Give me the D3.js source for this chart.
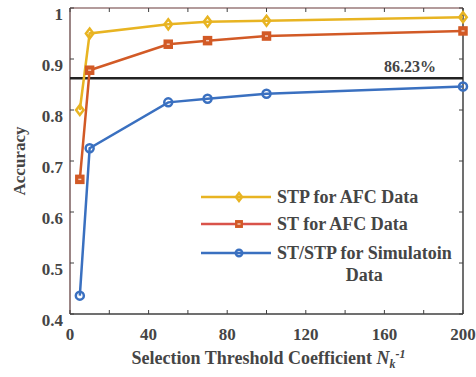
<!DOCTYPE html>
<html>
<head>
<meta charset="utf-8">
<script src="https://cdn.jsdelivr.net/npm/d3@7"></script>
<style>
  body { margin: 0; background: #fff; }
  text { font-family: "Liberation Serif", serif; font-weight: bold; fill: #454545; }
</style>
</head>
<body>
<div id="chart"></div>
<script>
const thresholds = [5, 10, 50, 70, 100, 200];
const stpAfc = [0.800, 0.950, 0.968, 0.973, 0.975, 0.982];
const stAfc = [0.664, 0.878, 0.929, 0.936, 0.945, 0.955];
const stSim = [0.436, 0.725, 0.815, 0.822, 0.832, 0.846];
const baseline = 0.8623;
const xTicks = [0, 40, 80, 120, 160, 200];
const xMinor = [20, 60, 100, 140, 180];
const yTicks = [0.4, 0.5, 0.6, 0.7, 0.8, 0.9, 1];

const series = [
  { name: 'STP for AFC Data', values: stpAfc, color: '#e8b422', marker: 'diamond' },
  { name: 'ST for AFC Data', values: stAfc, color: '#d25a26', legendColor: '#d9534a', marker: 'square' },
  { name: 'ST/STP for Simulatoin', name2: 'Data', values: stSim, color: '#3a70c0', marker: 'circle' }
];

const width = 476, height = 377;
const margin = { top: 8, right: 13, bottom: 63, left: 70 };
const innerW = width - margin.left - margin.right;
const innerH = height - margin.top - margin.bottom;

const svg = d3.select('#chart').append('svg')
  .attr('width', width)
  .attr('height', height);

const x = d3.scaleLinear().domain([0, 200]).range([0, innerW]);
const y = d3.scaleLinear().domain([0.4, 1]).range([innerH, 0]);

const g = svg.append('g')
  .attr('transform', `translate(${margin.left},${margin.top})`);

// frame
g.append('line').attr('x1', 0).attr('x2', innerW).attr('y1', 0).attr('y2', 0)
  .attr('stroke', '#9a7a7a').attr('stroke-width', 1.5);
g.append('line').attr('x1', 0).attr('x2', 0).attr('y1', 0).attr('y2', innerH)
  .attr('stroke', '#7a5c5c').attr('stroke-width', 1.5);
g.append('line').attr('x1', innerW).attr('x2', innerW).attr('y1', 0).attr('y2', innerH)
  .attr('stroke', '#404040').attr('stroke-width', 1.5);
g.append('line').attr('x1', 0).attr('x2', innerW).attr('y1', innerH).attr('y2', innerH)
  .attr('stroke', '#404040').attr('stroke-width', 1.5);

// x ticks
const xAll = xTicks.concat(xMinor);
g.selectAll('.xt-b').data(xAll).enter().append('line')
  .attr('x1', d => x(d)).attr('x2', d => x(d))
  .attr('y1', innerH).attr('y2', innerH - 4)
  .attr('stroke', '#404040').attr('stroke-width', 1);
g.selectAll('.xt-t').data(xAll).enter().append('line')
  .attr('x1', d => x(d)).attr('x2', d => x(d))
  .attr('y1', 0).attr('y2', 4)
  .attr('stroke', '#404040').attr('stroke-width', 1);
g.selectAll('.xl').data(xTicks).enter().append('text')
  .attr('x', d => x(d)).attr('y', innerH + 26)
  .attr('text-anchor', 'middle')
  .style('font-size', '17px')
  .text(d => d);

// y ticks
g.selectAll('.yt-l').data(yTicks).enter().append('line')
  .attr('x1', 0).attr('x2', 4)
  .attr('y1', d => y(d)).attr('y2', d => y(d))
  .attr('stroke', '#404040').attr('stroke-width', 1);
g.selectAll('.yt-r').data(yTicks).enter().append('line')
  .attr('x1', innerW).attr('x2', innerW - 4)
  .attr('y1', d => y(d)).attr('y2', d => y(d))
  .attr('stroke', '#404040').attr('stroke-width', 1);
g.selectAll('.yl').data(yTicks).enter().append('text')
  .attr('x', -7).attr('y', d => y(d) + 12)
  .attr('text-anchor', 'end')
  .style('font-size', '17px')
  .text(d => d === 1 ? '1' : d3.format('.1f')(d));

// baseline
g.append('line')
  .attr('x1', 0).attr('x2', innerW)
  .attr('y1', y(baseline)).attr('y2', y(baseline))
  .attr('stroke', '#222').attr('stroke-width', 2.5);
g.append('text')
  .attr('x', x(200) - 27).attr('y', y(baseline) - 6)
  .attr('text-anchor', 'end')
  .style('font-size', '16px')
  .text((baseline * 100).toFixed(2) + '%');

function drawMarker(sel, type, color, size) {
  if (type === 'diamond') {
    sel.append('path').attr('d', `M0,${-size}L${size * 0.75},0L0,${size}L${-size * 0.75},0Z`)
      .attr('fill', 'none').attr('stroke', color).attr('stroke-width', 2.5);
  } else if (type === 'square') {
    const s = size * 0.8;
    sel.append('rect').attr('x', -s).attr('y', -s).attr('width', 2 * s).attr('height', 2 * s)
      .attr('fill', color).attr('stroke', color).attr('stroke-width', 1.5);
    sel.append('rect').attr('x', -1.5).attr('y', -0.7).attr('width', 3).attr('height', 1.4)
      .attr('fill', '#f3d0c0');
  } else {
    sel.append('circle').attr('r', size * 0.8)
      .attr('fill', 'none').attr('stroke', color).attr('stroke-width', 2.5);
  }
}

const line = d3.line()
  .x((d, i) => x(thresholds[i]))
  .y(d => y(d));

series.forEach(s => {
  g.append('path')
    .datum(s.values)
    .attr('fill', 'none')
    .attr('stroke', s.color)
    .attr('stroke-width', 2.5)
    .attr('d', line);
  s.values.forEach((v, i) => {
    const m = g.append('g').attr('transform', `translate(${x(thresholds[i])},${y(v)})`);
    drawMarker(m, s.marker, s.color, 5);
  });
});

// legend
const legendRows = [197, 224, 253];
series.forEach((s, i) => {
  const lg = svg.append('g').attr('transform', `translate(201,${legendRows[i]})`);
  lg.append('line').attr('x1', 0).attr('x2', 70).attr('y1', 0).attr('y2', 0)
    .attr('stroke', s.legendColor || s.color).attr('stroke-width', 2.5);
  const m = lg.append('g').attr('transform', 'translate(38,0)');
  drawMarker(m, s.marker, s.color, 4);
  const t = lg.append('text').attr('x', 76).attr('y', 6)
    .style('font-size', '18px')
    .text(s.name);
  if (s.name2) {
    const w = t.node().getComputedTextLength();
    lg.append('text').attr('x', 76 + w / 2).attr('y', 28)
      .attr('text-anchor', 'middle')
      .style('font-size', '18px')
      .text(s.name2);
  }
});

// axis labels
svg.append('text')
  .attr('transform', `translate(25,${margin.top + innerH / 2}) rotate(-90)`)
  .attr('text-anchor', 'middle')
  .style('font-size', '17px')
  .text('Accuracy');

const xl = svg.append('text')
  .attr('x', margin.left + innerW / 2 + 2)
  .attr('y', 364)
  .attr('text-anchor', 'middle')
  .style('font-size', '18px');
xl.append('tspan').text('Selection Threshold Coefficient ');
xl.append('tspan').style('font-style', 'italic').text('N');
xl.append('tspan').style('font-style', 'italic').style('font-size', '12px').attr('dy', 4).text('k');
xl.append('tspan').style('font-style', 'italic').style('font-size', '12px').attr('dy', -10).text('-1');
</script>
</body>
</html>
